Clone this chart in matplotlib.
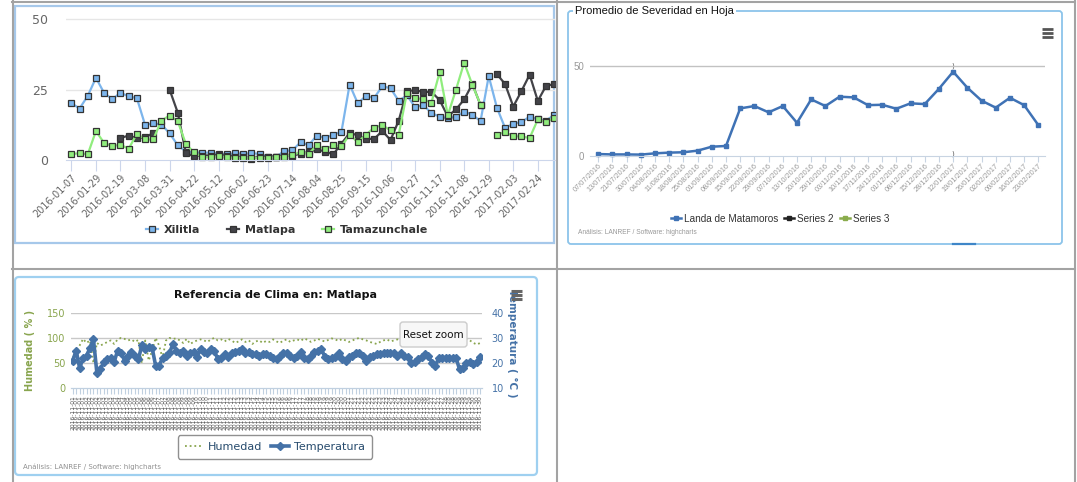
import numpy as np
import pandas as pd
import matplotlib
matplotlib.use('Agg')
import matplotlib.pyplot as plt
from matplotlib.patches import FancyBboxPatch, Rectangle

W, H = 1077, 482
NARROW = ['Liberation Sans', 'DejaVu Sans']

# ---------------- data: panel 1 (three municipalities) ----------------
dates1 = ['2016-01-07', '2016-01-29', '2016-02-19', '2016-03-08', '2016-03-31',
          '2016-04-22', '2016-05-12', '2016-06-02', '2016-06-23', '2016-07-14',
          '2016-08-04', '2016-08-25', '2016-09-15', '2016-10-06', '2016-10-27',
          '2016-11-17', '2016-12-08', '2016-12-29', '2017-02-03', '2017-02-24']
nan = np.nan
xilitla = [20.2, 18.3, 22.8, 29.2, 23.8, 21.6, 23.9, 22.6, 22.0, 12.5,
           13.0, 12.6, 9.5, 5.2, 3.0, 2.6, 2.6, 2.6, 2.2, 2.0,
           2.4, 2.2, 2.4, 2.2, 1.2, 1.0, 3.2, 3.4, 6.3, 5.3,
           8.7, 7.8, 9.0, 10.0, 26.8, 20.1, 22.8, 22.1, 26.2, 25.5,
           21.0, 23.0, 18.8, 19.5, 16.7, 15.4, 14.8, 15.4, 17.2, 16.1,
           13.8, 29.8, 18.6, 11.4, 12.9, 13.5, 15.4, 14.5, 14.0, 16.0]
matlapa = [nan, nan, nan, nan, nan, nan, 7.8, 8.7, 7.7, 8.0,
           9.6, nan, 25.0, 16.8, 2.4, 1.4, 1.6, 1.6, 1.8, 1.5,
           1.2, 1.0, 0.5, 1.2, 1.2, 1.2, 1.4, 1.6, 2.2, 2.8,
           3.8, 3.0, 2.0, 5.8, 9.6, 8.8, 7.5, 7.5, 10.3, 7.1,
           14.0, 24.5, 24.8, 24.2, 24.2, 21.3, 15.5, 18.0, 21.5, 27.0,
           19.5, nan, 30.5, 27.0, 19.0, 24.5, 30.3, 21.0, 26.3, 27.0]
tamazunchale = [2.0, 2.5, 2.0, 10.3, 6.0, 5.0, 5.4, 4.0, 9.3, 7.3,
                7.3, 14.0, 15.8, 13.8, 5.6, 2.7, 1.0, 1.0, 1.4, 1.0,
                0.8, 0.8, 0.6, 0.8, 0.8, 1.0, 1.2, 1.8, 2.8, 2.2,
                5.2, 3.8, 5.2, 4.8, 9.0, 6.3, 9.0, 11.5, 12.4, 10.5,
                9.0, 23.8, 22.0, 21.6, 20.4, 31.2, 15.9, 25.0, 34.6, 26.7,
                19.7, nan, 9.0, 10.0, 8.4, 8.4, 7.8, 14.4, 13.5, 15.0]

# ---------------- data: panel 2 (leaf severity) ----------------
dates2 = ['07/07/2016', '13/07/2016', '21/07/2016', '30/07/2016', '04/08/2016',
          '11/08/2016', '18/08/2016', '25/08/2016', '01/09/2016', '08/09/2016',
          '15/09/2016', '22/09/2016', '29/09/2016', '07/10/2016', '13/10/2016',
          '20/10/2016', '29/10/2016', '03/11/2016', '10/11/2016', '17/11/2016',
          '24/11/2016', '01/12/2016', '08/12/2016', '15/12/2016', '28/12/2016',
          '12/01/2017', '19/01/2017', '26/01/2017', '02/02/2017', '09/02/2017',
          '16/02/2017', '23/02/2017']
landa = [0.9, 0.7, 0.7, 0.6, 1.3, 1.7, 1.9, 2.8, 5.0, 5.4,
         26.3, 27.6, 24.1, 27.6, 18.3, 31.3, 27.6, 32.8, 32.4, 28.1,
         28.3, 26.1, 29.1, 28.7, 37.2, 46.7, 37.8, 30.6, 26.7, 32.2,
         28.1, 17.0]

# ---------------- data: panel 3 (climate at Matlapa) ----------------
humedad = [60, 75, 85, 98, 90, 95, 50, 90, 85, 88,
           92, 95, 88, 97, 100, 98, 95, 97, 92, 96,
           50, 95, 55, 75, 100, 85, 60, 95, 100, 98,
           99, 95, 90, 98, 88, 92, 95, 97, 95, 92,
           97, 100, 95, 97, 93, 98, 95, 90, 93, 97,
           92, 95, 88, 93, 95, 90, 94, 92, 97, 93,
           90, 95, 97, 92, 95, 97, 94, 99, 96, 92,
           95, 98, 95, 93, 96, 99, 97, 94, 98, 95,
           92, 95, 98, 100, 97, 95, 92, 90, 88, 92,
           95, 97, 93, 95, 97, 92, 95, 98, 96, 93,
           95, 97, 94, 92, 96, 98, 95, 93, 97, 95,
           92, 96, 98, 100, 97, 95, 90, 87, 90]
temperatura = [21, 25, 18, 22, 23, 26, 29.5, 16, 17.5, 20.5,
               21.5, 22, 20.5, 25, 24, 21, 23, 24.5, 23, 21.5,
               27, 25.5, 26.5, 26, 19, 19, 22, 23, 24, 27.5,
               25, 24, 25, 23, 24, 24.5, 22.5, 25.5, 24.5, 24,
               25.5, 25, 21.5, 22, 23.5, 22.5, 24, 24.5, 25, 25.5,
               24, 24.5, 23.5, 23.5, 23, 23.5, 23.5, 23, 22, 21.5,
               23, 24, 24, 23, 22, 23, 24.5, 22, 21.5, 23,
               24.5, 25, 25.5, 22.5, 21.5, 22, 22.5, 24, 21.5, 21,
               22.5, 23, 24, 24, 23, 21, 22.5, 23, 23.5, 23.5,
               24, 24, 24, 24, 23, 24, 23, 22.5, 20, 20.5,
               21.5, 22.5, 23.5, 23, 20, 19, 22, 22, 22, 22,
               22, 22, 17.5, 18, 20, 20.5, 19.5, 20.5, 22.5]
fechas3 = pd.date_range('2016-11-01', periods=len(temperatura), freq='6h').strftime('%Y-%m-%d').tolist()


def rect(x0, y0, x1, y1):
    return [x0 / W, 1 - y1 / H, (x1 - x0) / W, (y1 - y0) / H]


def fig_xy(x, y):
    return (x / W, 1 - y / H)


fig = plt.figure(figsize=(W / 100, H / 100), dpi=100)
fig.patch.set_facecolor('white')

bg = fig.add_axes([0, 0, 1, 1])
bg.set_xlim(0, W)
bg.set_ylim(H, 0)
bg.axis('off')

# table grid
grid_c = '#a3a3a3'
bg.plot([12.5, 12.5], [0, H], color=grid_c, lw=1.5)
bg.plot([556.5, 556.5], [0, H], color=grid_c, lw=1.5)
bg.plot([1074.5, 1074.5], [0, H], color=grid_c, lw=1.5)
bg.plot([12, 1075], [2, 2], color=grid_c, lw=1.5)
bg.plot([12, 1075], [268.5, 268.5], color=grid_c, lw=1.5)

# chart containers
bg.add_patch(Rectangle((15, 6), 539, 237, fill=False, edgecolor='#a6c8ea', lw=1.6))
bg.add_patch(FancyBboxPatch((568, 11), 494, 233, boxstyle='round,pad=0,rounding_size=3',
                            fill=False, edgecolor='#8cc4ea', lw=1.3))
bg.add_patch(FancyBboxPatch((15, 277), 522, 198, boxstyle='round,pad=0,rounding_size=4',
                            fill=False, edgecolor='#9fd0f0', lw=1.6))

# ---------------- panel 1 ----------------
ax1 = fig.add_axes(rect(66, 14, 555, 164))
ax1.set_facecolor('none')
idx1 = np.arange(len(xilitla))
series1 = [(xilitla, '#7cb5ec', 'Xilitla'),
           (matlapa, '#434348', 'Matlapa'),
           (tamazunchale, '#90ed7d', 'Tamazunchale')]
for vals, col, name in series1:
    ax1.plot(idx1, vals, color=col, lw=1.6, marker='s', ms=4.6, mfc=col,
             mec='#333333', mew=0.9, label=name)
ax1.set_xlim(-0.66, 59.1)
ax1.set_ylim(-1.42, 51.88)
for gy in (25, 50):
    ax1.axhline(gy, color='#e6e6e6', lw=1, zorder=0)
for s in ('top', 'right', 'left'):
    ax1.spines[s].set_visible(False)
ax1.spines['bottom'].set_position(('data', 0))
ax1.spines['bottom'].set_color('#ccd6eb')
ax1.set_yticks([0, 25, 50])
ax1.tick_params(axis='y', length=0, pad=13, labelsize=9, labelcolor='#666666')
ax1.set_xticks(idx1[::3][:len(dates1)])
ax1.set_xticklabels(dates1)
ax1.tick_params(axis='x', length=8, color='#ccd6eb', labelsize=7, labelcolor='#666666', pad=1)
plt.setp(ax1.get_xticklabels(), rotation=45, ha='right', va='top', rotation_mode='anchor')
ax1.legend(loc='center', bbox_to_anchor=fig_xy(287, 230), bbox_transform=fig.transFigure,
           ncol=3, frameon=False, handlelength=1.1, handletextpad=0.5, columnspacing=2.4,
           prop={'weight': 'bold', 'size': 8}, labelcolor='#333333')

# ---------------- panel 2 ----------------
ax2 = fig.add_axes(rect(590, 60, 1045, 160))
ax2.set_facecolor('none')
idx2 = np.arange(len(landa))
ax2.plot(idx2, landa, color='#3f72b5', lw=1.8, marker='s', ms=3.2, mfc='#3f72b5',
         mec='#3f72b5', label='Landa de Matamoros')
ax2.plot([], [], color='#222222', lw=1.8, marker='s', ms=3.2, label='Series 2')
ax2.plot([], [], color='#8aac4c', lw=1.8, marker='s', ms=3.2, label='Series 3')
ax2.set_xlim(-0.58, 31.47)
ax2.set_ylim(-2.4, 53.2)
ax2.axhline(50, color='#c2c2c2', lw=1, zorder=0)
for s in ('top', 'right', 'left'):
    ax2.spines[s].set_visible(False)
ax2.spines['bottom'].set_position(('data', 0))
ax2.spines['bottom'].set_color('#c8d4e2')
ax2.set_yticks([0, 50])
ax2.tick_params(axis='y', length=0, pad=4, labelsize=7, labelcolor='#999999')
ax2.set_xticks(idx2)
ax2.set_xticklabels(dates2)
ax2.tick_params(axis='x', length=4, color='#c8d4e2', labelsize=5.3, labelcolor='#9a9a9a', pad=1)
plt.setp(ax2.get_xticklabels(), rotation=45, ha='right', va='top', rotation_mode='anchor',
         family=NARROW)
plt.setp(ax2.get_yticklabels(), family=NARROW)
ax2.legend(loc='center', bbox_to_anchor=fig_xy(780, 219), bbox_transform=fig.transFigure,
           ncol=3, frameon=False, handlelength=1.0, handletextpad=0.3, columnspacing=0.6,
           prop={'family': NARROW, 'size': 7.2}, labelcolor='#333333')
bg.text(575, 11, 'Promedio de Severidad en Hoja', ha='left', va='center', fontsize=8,
        family=NARROW, color='#111111',
        bbox=dict(facecolor='white', edgecolor='none', pad=1.5))
bg.text(578, 232, 'Análisis: LANREF / Software: highcharts', ha='left', va='center',
        fontsize=4.8, family=NARROW, color='#999999')
bg.text(953, 66, ')', ha='center', va='center', fontsize=5, color='#555555')
bg.text(953, 154, ')', ha='center', va='center', fontsize=5, color='#555555')
bg.plot([953, 975], [244, 244], color='#3f86c8', lw=1.6)

# ---------------- panel 3 ----------------
ax3 = fig.add_axes(rect(71, 312.7, 482, 388.3))
ax3.set_facecolor('none')
ax3t = ax3.twinx()
idx3 = np.arange(len(temperatura))
h_line, = ax3.plot(idx3, humedad, color='#89A54E', lw=1.3, ls=(0, (1, 1.6)), label='Humedad')
t_line, = ax3t.plot(idx3, temperatura, color='#4572A7', lw=2.6, marker='D', ms=4.2,
                    mfc='#4572A7', mec='#4572A7', label='Temperatura')
ax3.set_xlim(-0.5, len(idx3) - 0.5)
ax3.set_ylim(0, 150)
ax3t.set_ylim(10, 40)
for gy in (50, 100, 150):
    ax3.axhline(gy, color='#c8c8c8', lw=1, zorder=0)
for a in (ax3, ax3t):
    for s in ('top', 'right', 'left'):
        a.spines[s].set_visible(False)
    a.spines['bottom'].set_color('#C0D0E0')
ax3.set_yticks([0, 50, 100, 150])
ax3.tick_params(axis='y', length=0, pad=4, labelsize=7, labelcolor='#89A54E')
ax3t.set_yticks([10, 20, 30, 40])
ax3t.tick_params(axis='y', length=0, pad=7, labelsize=7, labelcolor='#4572A7')
ax3.set_xticks(idx3)
ax3.set_xticklabels(fechas3)
ax3.tick_params(axis='x', length=4, color='#C0D0E0', labelsize=4.3, labelcolor='#5a5a5a', pad=1)
plt.setp(ax3.get_xticklabels(), rotation=90)
ax3t.tick_params(axis='x', length=0)
ax3.set_ylabel('Humedad ( % )', color='#89A54E', fontsize=7, fontweight='bold')
ax3.yaxis.set_label_coords((35 - 71) / 411, 0.5)
ax3t.set_ylabel('Temperatura ( °C )', color='#4572A7', fontsize=7.5, fontweight='bold',
                rotation=-90, va='center')
ax3t.yaxis.set_label_coords((512 - 71) / 411, 0.6)
bg.text(275, 295, 'Referencia de Clima en: Matlapa', ha='center', va='center',
        fontsize=8, fontweight='bold', color='#111111')
bg.text(23, 467, 'Análisis: LANREF / Software: highcharts', ha='left', va='center',
        fontsize=5, color='#909090')
leg3 = ax3.legend(handles=[h_line, t_line], loc='center', bbox_to_anchor=fig_xy(275, 447),
                  bbox_transform=fig.transFigure, ncol=2, frameon=True, fancybox=True,
                  edgecolor='#909090', facecolor='white', framealpha=1, fontsize=8,
                  labelcolor='#274b6d', handlelength=1.6, handletextpad=0.5,
                  columnspacing=0.8, borderpad=0.6)
leg3.get_frame().set_linewidth(1.0)

# ---------------- overlay: buttons and menu icons ----------------
ov = fig.add_axes([0, 0, 1, 1])
ov.set_xlim(0, W)
ov.set_ylim(H, 0)
ov.axis('off')
ov.add_patch(FancyBboxPatch((400, 322), 67, 25, boxstyle='round,pad=0,rounding_size=3',
                            facecolor='#f7f7f7', edgecolor='#cccccc', lw=1))
ov.text(433.5, 334.5, 'Reset zoom', ha='center', va='center', fontsize=7.5, color='#111111')
for yy in (29, 33, 37):
    ov.plot([1042, 1053], [yy, yy], color='#555555', lw=2, solid_capstyle='butt')
for yy in (291, 295, 299):
    ov.plot([511, 522], [yy, yy], color='#666666', lw=2.2, solid_capstyle='butt')

fig.savefig('out.png', dpi=100)
